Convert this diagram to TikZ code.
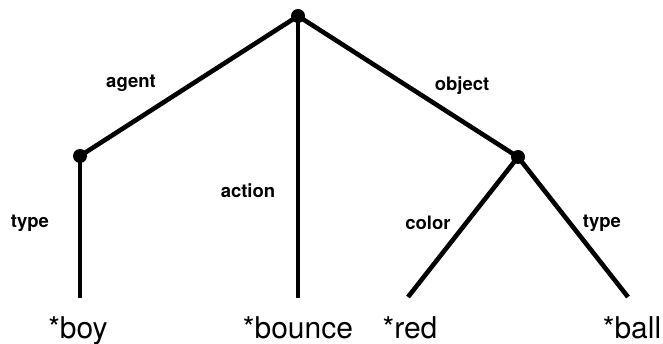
\documentclass[tikz,border=0pt]{standalone}
\usepackage{fontspec}
\setmainfont{TeX Gyre Heros}
\tikzset{
  knot/.style={circle, fill, inner sep=0pt, minimum size=14pt},
  arc/.style={line width=4.6pt},
  role/.style={font=\fontsize{18.5}{18.5}\selectfont\bfseries},
  leaf/.style={anchor=base, font=\fontsize{30}{30}\selectfont}
}
\begin{document}
\begin{tikzpicture}[x=1pt, y=-1pt]
  \useasboundingbox (0,0) rectangle (663,344);
  \node[knot] (root) at (298,16) {};
  \node[knot] (boy) at (80,156) {};
  \node[knot] (ball) at (518,157) {};
  \coordinate (eboy) at (80,298);
  \coordinate (ebounce) at (298,298);
  \coordinate (ered) at (408,297);
  \coordinate (eball) at (628,297);
  \draw[arc] (root.center) -- (boy.center);
  \draw[arc] (root.center) -- (ebounce);
  \draw[arc] (root.center) -- (ball.center);
  \draw[arc] (boy.center) -- (eboy);
  \draw[arc] (ball.center) -- (ered);
  \draw[arc] (ball.center) -- (eball);
  \node[role] (lagent) at (131,83) {agent};
  \node[role] (lobject) at (462,86) {object};
  \node[role] (laction) at (248,191) {action};
  \node[role] (ltype) at (30,223) {type};
  \node[role] (lcolor) at (428,223) {color};
  \node[role] (ltypeb) at (602,223) {type};
  \node[leaf] (wboy) at (78,338) {*boy};
  \node[leaf] (wbounce) at (298,338) {*bounce};
  \node[leaf] (wred) at (410,338) {*red};
  \node[leaf] (wball) at (632,338) {*ball};
\end{tikzpicture}
\end{document}
